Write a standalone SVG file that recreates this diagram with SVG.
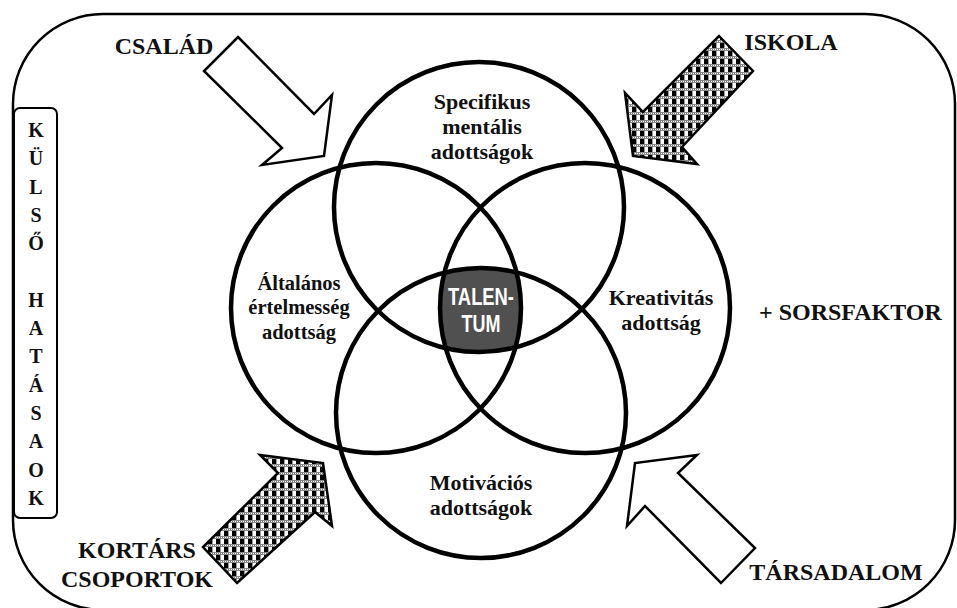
<svg xmlns="http://www.w3.org/2000/svg" width="957" height="608" viewBox="0 0 957 608">
<style>
.lbl{font-family:"Liberation Serif","Times New Roman",serif;font-weight:bold;fill:#111;text-anchor:middle}
.out{font-size:24px}
.in{font-size:22px}
.side{font-size:20px}
.circ{fill:none;stroke:#000;stroke-width:4.5}
.arr{stroke:#000;stroke-width:2.5;stroke-linejoin:miter}
.tal{font-family:"Liberation Sans",Arial,sans-serif;font-weight:bold;fill:#fff;font-size:23px;text-anchor:middle}
</style>
<defs>
<pattern id="chk" width="8" height="8" patternUnits="userSpaceOnUse">
<rect width="8" height="8" fill="#fff"/>
<rect x="0" y="3" width="4" height="5" fill="#000"/>
<rect x="4" y="3" width="1" height="5" fill="#999"/>
<rect x="0" y="0" width="8" height="3" fill="#888"/>
<rect x="1" y="1" width="1" height="1" fill="#fff"/>
<rect x="3" y="1" width="1" height="1" fill="#fff"/>
<rect x="5" y="1" width="1" height="1" fill="#fff"/>
<rect x="7" y="1" width="1" height="1" fill="#fff"/>
</pattern>
<clipPath id="cTop"><circle cx="479" cy="207" r="145"/></clipPath>
<clipPath id="cLeft"><circle cx="376" cy="308" r="145"/></clipPath>
<clipPath id="cRight"><circle cx="585" cy="308" r="145"/></clipPath>
<clipPath id="cBot"><circle cx="481" cy="413" r="145"/></clipPath>
</defs>
<rect width="957" height="608" fill="#fff"/>
<rect x="13" y="14" width="942" height="596" rx="90" ry="90" fill="none" stroke="#000" stroke-width="2.5"/>

<g id="kulso">
<rect x="14" y="108" width="43" height="410" rx="6" fill="#fff" stroke="#000" stroke-width="2"/>
<text class="lbl side" x="36" y="137">K</text>
<text class="lbl side" x="36" y="165.3">Ü</text>
<text class="lbl side" x="36" y="193.6">L</text>
<text class="lbl side" x="36" y="221.9">S</text>
<text class="lbl side" x="36" y="250.2">Ő</text>
<text class="lbl side" x="36" y="306.8">H</text>
<text class="lbl side" x="36" y="335.1">A</text>
<text class="lbl side" x="36" y="363.4">T</text>
<text class="lbl side" x="36" y="391.7">Á</text>
<text class="lbl side" x="36" y="420">S</text>
<text class="lbl side" x="36" y="448.3">A</text>
<text class="lbl side" x="36" y="476.6">O</text>
<text class="lbl side" x="36" y="504.9">K</text>
</g>

<g id="talentum">
<g clip-path="url(#cTop)"><g clip-path="url(#cLeft)"><g clip-path="url(#cRight)"><g clip-path="url(#cBot)">
<rect x="420" y="250" width="120" height="120" fill="#505050"/>
</g></g></g></g>
<text class="tal" x="481" y="305" textLength="66" lengthAdjust="spacingAndGlyphs">TALEN-</text>
<text class="tal" x="481" y="332" textLength="39" lengthAdjust="spacingAndGlyphs">TUM</text>
</g>

<g id="specifikus">
<circle class="circ" cx="479" cy="207" r="145"/>
<text class="lbl in" x="482" y="109">Specifikus</text>
<text class="lbl in" x="482" y="134">mentális</text>
<text class="lbl in" x="482" y="159">adottságok</text>
</g>
<g id="altalanos">
<circle class="circ" cx="376" cy="308" r="145"/>
<text class="lbl" style="font-size:20.5px" x="299" y="290">Általános</text>
<text class="lbl" style="font-size:20.5px" x="299" y="314">értelmesség</text>
<text class="lbl" style="font-size:20.5px" x="299" y="339">adottság</text>
</g>
<g id="kreativitas">
<circle class="circ" cx="585" cy="308" r="145"/>
<text class="lbl in" x="661" y="305">Kreativitás</text>
<text class="lbl in" x="661" y="330">adottság</text>
</g>
<g id="motivacios">
<circle class="circ" cx="481" cy="413" r="145"/>
<text class="lbl in" x="481" y="490">Motivációs</text>
<text class="lbl in" x="481" y="515">adottságok</text>
</g>

<g id="connectors">
<polygon class="arr" fill="#fff" points="238,37 314,114 332,95 324,156 262,165 282,148 204,71"/>
<polygon class="arr" fill="url(#chk)" points="719,36 753,71 682,147 697,164 633,156 625,93 643,112"/>
<polygon class="arr" fill="url(#chk)" points="237,583 203,547 278,473 260,455 323,463 332,526 315,512"/>
<polygon class="arr" fill="#fff" points="721,583 755,548 678,473 697,455 635,463 627,526 645,506"/>
</g>

<g id="csalad"><text class="lbl out" x="164" y="54">CSALÁD</text></g>
<g id="iskola"><text class="lbl out" x="791" y="50">ISKOLA</text></g>
<g id="kortars"><text class="lbl out" x="137" y="558">KORTÁRS</text><text class="lbl out" x="137" y="587">CSOPORTOK</text></g>
<g id="tarsadalom"><text class="lbl out" x="836" y="580">TÁRSADALOM</text></g>
<g id="sorsfaktor"><text class="lbl out" x="759" y="320" style="text-anchor:start">+ SORSFAKTOR</text></g>
</svg>
